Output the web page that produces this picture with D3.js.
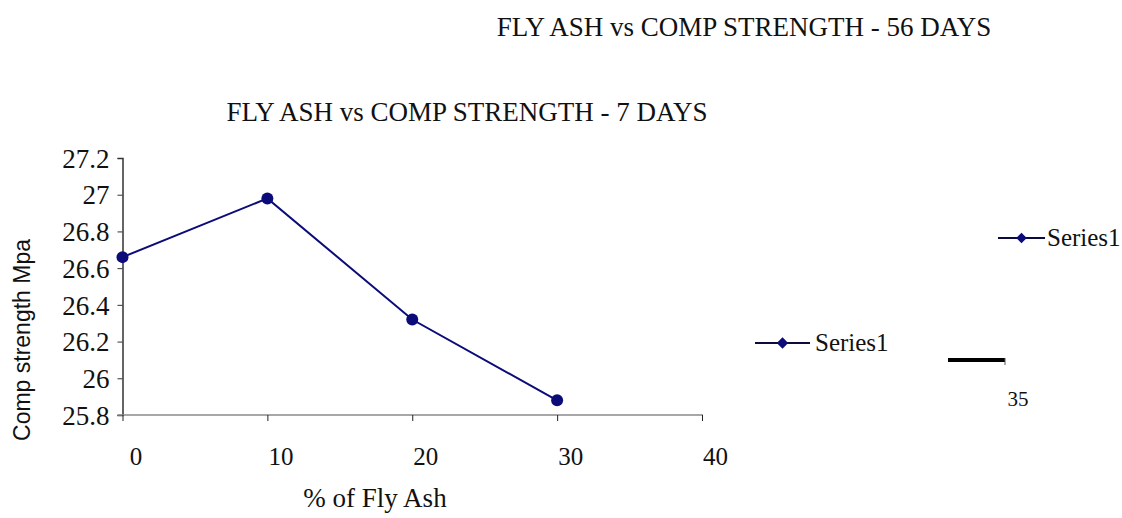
<!DOCTYPE html>
<html>
<head>
<meta charset="utf-8">
<script src="https://cdn.jsdelivr.net/npm/d3@7"></script>
<style>
  html, body { margin: 0; padding: 0; background: #fff; }
  svg { display: block; }
</style>
</head>
<body>
<svg id="chart" width="1122" height="518"></svg>
<script>
// Fly ash content (%) and 7-day compressive strength (MPa)
const flyAsh = [0, 10, 20, 30];
const strength7 = [26.66, 26.98, 26.32, 25.88];
const yTicks = [25.8, 26, 26.2, 26.4, 26.6, 26.8, 27, 27.2];
const xTicks = [0, 10, 20, 30, 40];
const seriesName = "Series1";
const titleTop = "FLY ASH vs COMP STRENGTH - 56 DAYS";
const titleMain = "FLY ASH vs COMP STRENGTH - 7 DAYS";
const xTitle = "% of Fly Ash";
const yTitle = "Comp strength Mpa";
// partially visible axis of the 56-day chart behind
const backAxisTick = [35];

const svg = d3.select("#chart");
const serif = "Liberation Serif";
const sans = "Liberation Sans";
const ink = "#111";
const navy = "#0b0b7a";

const x = d3.scaleLinear().domain([0, 40]).range([122.5, 702]);
const y = d3.scaleLinear().domain([25.8, 27.2]).range([415, 158]);

// titles
svg.append("text").attr("x", 744).attr("y", 36).attr("text-anchor", "middle")
  .attr("font-family", serif).attr("font-size", 27).attr("fill", ink).text(titleTop);
svg.append("text").attr("x", 467).attr("y", 121).attr("text-anchor", "middle")
  .attr("font-family", serif).attr("font-size", 27).attr("fill", ink).text(titleMain);

// y axis
const yAxis = d3.axisLeft(y).tickValues(yTicks).tickSize(5).tickPadding(8)
  .tickFormat(d => String(+d.toFixed(1)));
const gy = svg.append("g").attr("transform", `translate(${x(0)},0)`).call(yAxis)
  .attr("font-family", serif).attr("font-size", 27);
gy.select(".domain").attr("stroke", "#333").attr("stroke-width", 1.5);
gy.selectAll(".tick line").attr("stroke", "#333");
gy.selectAll(".tick text").attr("fill", ink).attr("dy", "0.34em");

// x axis
const xAxis = d3.axisBottom(x).tickValues(xTicks).tickSize(6).tickPadding(26);
const gx = svg.append("g").attr("transform", `translate(0,${y(25.8)})`).call(xAxis)
  .attr("font-family", serif).attr("font-size", 25);
gx.select(".domain").attr("stroke", "#8a8a8a").attr("stroke-width", 1.5)
  .attr("d", `M${x(0) - 5},0H${x(40) + 1}`);
gx.selectAll(".tick line").attr("stroke", "#222");
gx.selectAll(".tick text").attr("fill", ink).attr("dx", 13);

// axis titles
svg.append("text").attr("x", 375).attr("y", 507).attr("text-anchor", "middle")
  .attr("font-family", serif).attr("font-size", 27).attr("fill", ink).text(xTitle);
svg.append("text").attr("transform", "translate(30,340) rotate(-90)")
  .attr("text-anchor", "middle")
  .attr("font-family", sans).attr("font-size", 23).attr("fill", ink).text(yTitle);

// series line and markers
const data = flyAsh.map((f, i) => ({ f, v: strength7[i] }));
svg.append("path").datum(data)
  .attr("fill", "none").attr("stroke", navy).attr("stroke-width", 2)
  .attr("d", d3.line().x(d => x(d.f)).y(d => y(d.v)));
svg.selectAll("circle.pt").data(data).join("circle").attr("class", "pt")
  .attr("cx", d => x(d.f)).attr("cy", d => y(d.v)).attr("r", 6).attr("fill", navy);

// legends
const marker = d3.symbol().type(d3.symbolSquare);
function legend(lx, ly, w, tx, size) {
  const g = svg.append("g");
  g.append("line").attr("x1", lx).attr("x2", lx + w).attr("y1", ly).attr("y2", ly)
    .attr("stroke", "#0b0b40").attr("stroke-width", 2);
  g.append("path").attr("transform", `translate(${lx + w / 2},${ly}) rotate(45)`)
    .attr("d", marker.size(size)).attr("fill", navy);
  g.append("text").attr("x", tx).attr("y", ly + 8)
    .attr("font-family", serif).attr("font-size", 25).attr("fill", ink).text(seriesName);
}
legend(998, 238, 47, 1047, 55);
legend(755, 343, 55, 815, 65);

// fragment of the 56-day chart axis
const xb = d3.scaleLinear().domain([30, 35]).range([948, 1005]);
svg.append("line").attr("x1", xb(30)).attr("x2", xb(35)).attr("y1", 360).attr("y2", 360)
  .attr("stroke", "#000").attr("stroke-width", 4);
svg.append("line").attr("x1", xb(35)).attr("x2", xb(35)).attr("y1", 358).attr("y2", 365)
  .attr("stroke", "#555").attr("stroke-width", 1);
svg.selectAll("text.bt").data(backAxisTick).join("text").attr("class", "bt")
  .attr("x", d => xb(d) + 13).attr("y", 406).attr("text-anchor", "middle")
  .attr("font-family", serif).attr("font-size", 21).attr("fill", ink).text(d => d);
</script>
</body>
</html>
